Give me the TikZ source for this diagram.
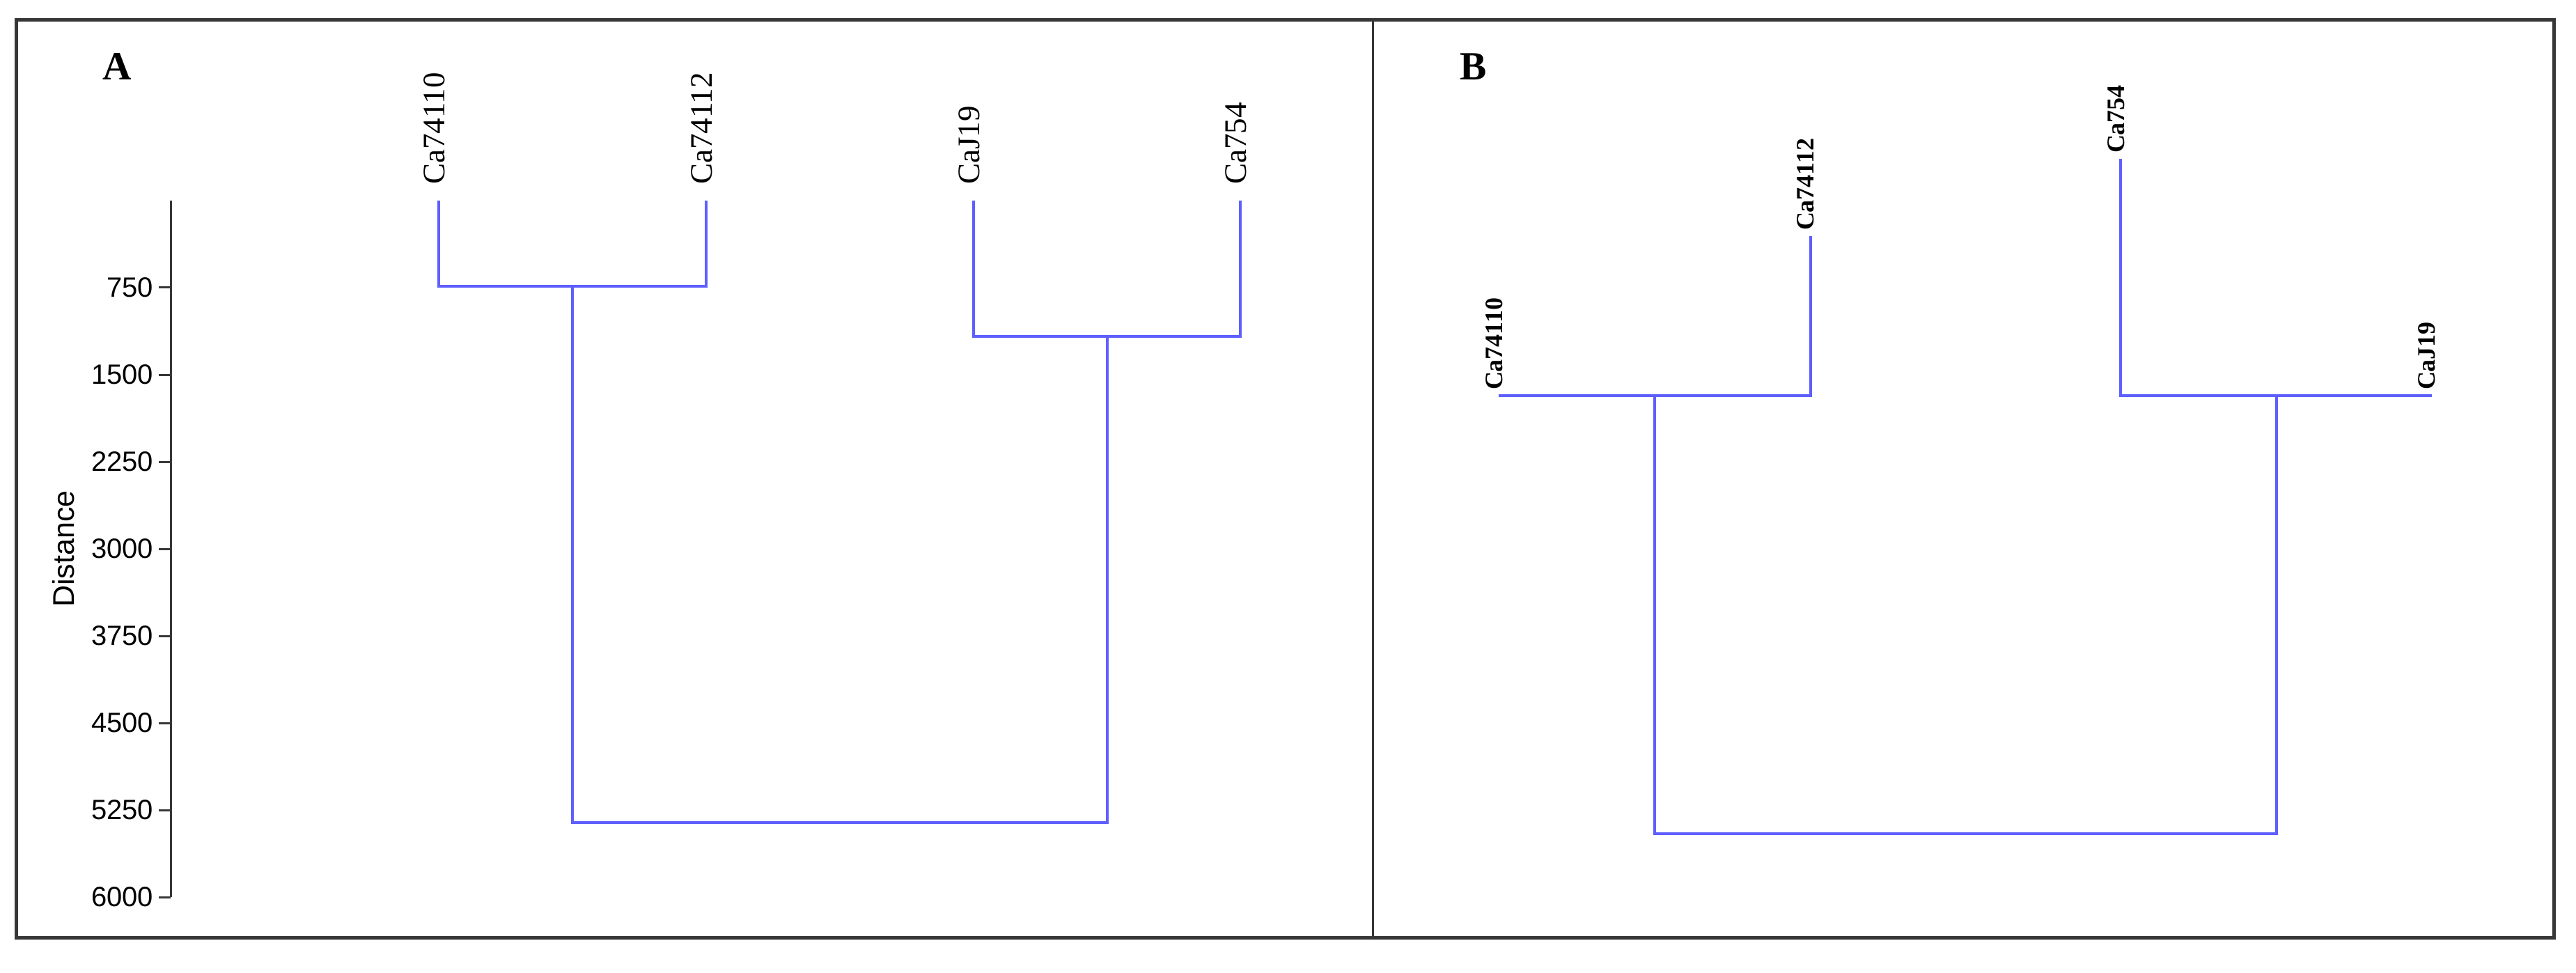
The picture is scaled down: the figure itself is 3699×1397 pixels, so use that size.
\documentclass[tikz,border=0pt]{standalone}
\usepackage{fontspec}
\setmainfont{Liberation Serif}
\newfontfamily\axisfont{Liberation Sans}
\definecolor{treeblue}{RGB}{95,95,255}
\definecolor{framegray}{RGB}{55,55,55}
\begin{document}
\begin{tikzpicture}[x=0.2pt,y=-0.2pt,
  tree/.style={draw=treeblue, line width=0.9pt},
  framestyle/.style={draw=framegray, line width=1pt},
  dividerstyle/.style={draw=framegray, line width=0.6pt},
  axisstyle/.style={draw=framegray, line width=0.6pt},
  leafA/.style={rotate=90, anchor=west, inner sep=0pt, font=\fontsize{9}{9}\selectfont},
  leafB/.style={rotate=90, anchor=west, inner sep=0pt, font=\bfseries\fontsize{7.2}{7.2}\selectfont},
  ticklab/.style={anchor=east, inner sep=0pt, font=\axisfont\fontsize{8}{8}\selectfont},
  axtitle/.style={rotate=90, inner sep=0pt, font=\axisfont\fontsize{8.6}{8.6}\selectfont},
  panellab/.style={inner sep=0pt, font=\bfseries\fontsize{11.5}{11.5}\selectfont}]
\useasboundingbox (0,0) rectangle (3699,1397);

% frame and divider
\draw[framestyle] (23,29) rectangle (3667,1346);
\coordinate (divtop) at (1971,29);
\coordinate (divbot) at (1971,1346);
\draw[dividerstyle] (divtop) -- (divbot);

% panel letters
\node[panellab] (labA) at (168,96) {A};
\node[panellab] (labB) at (2116,96) {B};

% axis
\coordinate (axtop) at (245,288);
\coordinate (axbot) at (245,1288);
\draw[axisstyle] (axtop) -- (axbot);
\foreach \v [count=\i from 1] in {750,1500,2250,3000,3750,4500,5250,6000}{
  \coordinate (tk\i) at (245,{288+125*\i});
  \draw[axisstyle] (tk\i) -- ++(-17,0) coordinate (tke\i);
  \node[ticklab] (tl\i) at (221,{288+125*\i}) {\v};
}
\node[axtitle] (dist) at (91,788) {Distance};

% ---- Panel A tree ----
\coordinate (a1) at (630,288);
\coordinate (a2) at (1014,288);
\coordinate (a3) at (1398,288);
\coordinate (a4) at (1781,288);
\coordinate (m12) at (822,411);
\coordinate (m34) at (1590,483);
\coordinate (rootA) at (1206,1181);
\node[leafA] (la1) at (624,266) {Ca74110};
\node[leafA] (la2) at (1008,266) {Ca74112};
\node[leafA] (la3) at (1392,266) {CaJ19};
\node[leafA] (la4) at (1775,266) {Ca754};
\draw[tree] (a1) |- (m12) -| (a2);
\draw[tree] (a3) |- (m34) -| (a4);
\draw[tree] (m12) |- (rootA) -| (m34);

% ---- Panel B tree ----
\coordinate (b1) at (2152,568);
\coordinate (b2) at (2600,339);
\coordinate (b3) at (3045,228);
\coordinate (b4) at (3492,568);
\coordinate (n12) at (2376,568);
\coordinate (n34) at (3269,568);
\coordinate (rootB) at (2822,1197);
\node[leafB] (lb1) at (2146,561) {Ca74110};
\node[leafB] (lb2) at (2593,332) {Ca74112};
\node[leafB] (lb3) at (3039,221) {Ca754};
\node[leafB] (lb4) at (3485,561) {CaJ19};
\draw[tree] (b1) -- (n12) -| (b2);
\draw[tree] (b3) |- (n34) -- (b4);
\draw[tree] (n12) |- (rootB) -| (n34);
\end{tikzpicture}
\end{document}
